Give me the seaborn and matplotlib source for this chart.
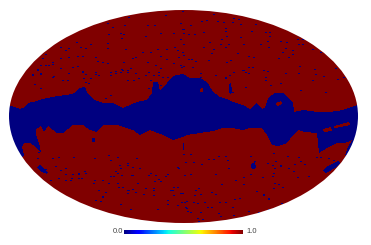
import numpy as np
import matplotlib
matplotlib.use("Agg")
import matplotlib.pyplot as plt
from matplotlib.patches import Ellipse
from matplotlib.path import Path
import seaborn as sns

W, H = 371, 245
sky_center = (183.7, 116.3)
sky_width, sky_height = 349.0, 213.0

# Masked plane outline, read in image pixels
upper_left_x = [0, 8, 20, 25, 28, 33, 43, 57, 67, 75, 80, 85, 87, 95, 103, 113, 123, 130, 137, 147, 152, 153, 158, 160, 167, 173, 183]
upper_left_y = [105, 105, 109, 107, 103, 102, 99, 96, 95, 93, 88, 87, 93, 100, 103, 103, 108, 105, 102, 100, 93, 82, 82, 91, 83, 76, 74]
upper_right_x = [190, 200, 207, 213, 220, 227, 233, 243, 250, 257, 262, 265, 268, 275, 283, 293, 294, 303, 317, 330, 343, 357, 371]
upper_right_y = [78, 78, 82, 92, 97, 99, 102, 105, 109, 103, 109, 108, 98, 93, 93, 102, 112, 110, 112, 112, 110, 105, 105]
lower_right_x = [371, 371, 350, 345, 348, 352, 345, 337, 327, 319, 317, 305, 298, 293, 287, 278, 272, 267, 262, 250, 243, 233, 223, 213, 200, 187, 180]
lower_right_y = [132, 160, 157, 155, 147, 140, 143, 143, 148, 153, 133, 132, 130, 135, 143, 146, 145, 135, 128, 128, 130, 128, 128, 131, 133, 135, 138]
lower_left_x = [173, 163, 150, 140, 133, 127, 117, 103, 97, 90, 83, 73, 63, 57, 48, 44, 41, 36, 36, 40, 41, 35, 30, 24, 22, 24, 20, 3, 0]
lower_left_y = [140, 135, 130, 135, 130, 128, 125, 125, 132, 130, 125, 125, 133, 133, 126, 132, 126, 129, 135, 147, 153, 146, 143, 143, 147, 155, 160, 153, 150]

# Islands of the other value
red_island_x = [[200, 203, 203, 200], [276, 281, 282, 278, 276], [323, 331, 332, 324], [334, 349, 350, 336, 334]]
red_island_y = [[89, 88, 92, 92], [103, 101, 104, 106, 105], [129, 127, 131, 132], [126, 122, 125, 128, 128]]
blue_blob_x = [[229, 231, 232, 231, 229], [183, 184, 184, 183], [251, 255, 256, 253, 251], [323, 328, 338, 340, 335, 326], [343, 350, 352, 345], [92, 95, 95, 92], [37, 40, 48, 47, 40]]
blue_blob_y = [[84, 83, 92, 94, 93], [143, 143, 150, 150], [164, 162, 168, 169, 167], [171, 166, 161, 163, 168, 173], [160, 150, 151, 162], [138, 138, 142, 142], [167, 165, 172, 174, 171]]

# Small masked sources, image pixels
north_left_x = [165, 128, 107, 112, 147, 154, 124, 108, 120, 123, 145, 121, 76, 90, 107, 107, 80, 85, 68, 65, 60, 125, 142, 150, 157, 166, 174, 182, 177, 183, 173, 160, 188, 45, 42, 52, 48, 40, 37, 32, 60, 68, 77, 82, 95, 97, 102, 107, 123, 132, 135, 147, 160, 166, 173, 178, 72, 77, 82, 60, 53, 40, 85, 95, 98, 110, 115, 121, 127, 135, 148, 160, 162, 167, 153, 83]
north_left_y = [15, 17, 23, 27, 25, 25, 25, 34, 33, 34, 36, 38, 42, 44, 43, 48, 47, 48, 48, 50, 47, 49, 52, 52, 49, 49, 47, 52, 50, 29, 33, 33, 34, 54, 58, 62, 65, 65, 70, 74, 58, 57, 56, 56, 57, 61, 62, 63, 62, 58, 57, 62, 56, 59, 63, 57, 67, 66, 71, 68, 76, 74, 74, 74, 75, 72, 71, 69, 70, 73, 72, 68, 77, 77, 75, 78]
north_right_x = [182, 213, 233, 238, 201, 206, 217, 232, 223, 240, 255, 190, 180, 225, 225, 182, 183, 188, 194, 203, 251, 265, 269, 269, 226, 221, 240, 209, 180, 220, 228, 225, 243, 260, 268, 267, 280, 286, 297, 302, 298, 302, 312, 320, 285, 292, 292, 282, 278, 183, 203, 213, 211, 183, 237, 248, 253, 230, 226, 208, 191, 188, 195, 252, 242, 243, 248, 263, 267, 285, 298, 299, 314, 315, 323, 337, 343, 330, 233, 229, 225, 248, 200, 192, 181, 288]
north_right_y = [11, 14, 18, 19, 21, 20, 21, 22, 22, 24, 24, 25, 23, 28, 31, 29, 33, 34, 34, 32, 31, 32, 32, 36, 36, 39, 37, 42, 39, 44, 44, 47, 44, 44, 47, 41, 41, 42, 39, 39, 44, 44, 49, 52, 48, 50, 54, 52, 58, 44, 47, 49, 53, 55, 53, 56, 57, 60, 62, 60, 59, 59, 61, 67, 70, 70, 67, 70, 71, 73, 73, 66, 69, 74, 76, 79, 77, 57, 72, 75, 77, 73, 77, 67, 67, 57]
north_mid_x = [37, 32, 45, 52, 40, 52, 62, 67, 34, 40, 82, 68, 95, 115, 110, 127, 122, 90, 88, 127, 133, 138, 158, 173, 178, 180, 85, 105, 110, 145, 150, 148, 160, 155, 158, 175, 185, 183, 178, 120, 130, 200, 215, 225, 232, 245, 265, 270, 280, 265, 245, 300, 325, 335, 312, 298]
north_mid_y = [69, 75, 65, 64, 73, 77, 80, 80, 84, 88, 72, 73, 72, 73, 75, 72, 70, 78, 83, 80, 80, 78, 75, 80, 78, 65, 82, 98, 95, 75, 80, 88, 85, 65, 72, 90, 80, 66, 85, 72, 68, 73, 75, 78, 92, 87, 80, 85, 83, 77, 72, 90, 92, 68, 80, 73]
south_left_x = [38, 37, 52, 58, 73, 55, 65, 78, 84, 94, 108, 117, 117, 127, 136, 110, 127, 132, 139, 40, 45, 65, 70, 72, 78, 71, 78, 85, 50, 58, 65, 60, 81, 93, 94, 102, 108, 117, 118, 122, 127, 132, 117, 121, 131, 150, 155, 160, 167, 177, 115, 119, 132, 148, 154, 158, 165, 178, 185, 137, 127, 113, 120, 110, 145, 153, 153, 170, 172, 177, 182, 167, 180, 120, 128, 135, 173, 177, 102, 185, 187, 102, 98, 105, 95, 100, 130, 143, 153, 167, 173, 157]
south_left_y = [152, 158, 158, 157, 157, 166, 168, 173, 171, 158, 155, 157, 157, 163, 158, 160, 165, 175, 168, 167, 169, 174, 180, 174, 174, 178, 178, 173, 180, 178, 180, 170, 178, 183, 180, 180, 183, 183, 187, 187, 190, 189, 173, 175, 175, 173, 175, 181, 174, 167, 171, 165, 167, 175, 181, 179, 176, 168, 162, 183, 193, 176, 168, 176, 188, 188, 190, 190, 190, 187, 193, 204, 193, 204, 190, 192, 187, 205, 196, 207, 211, 197, 190, 192, 200, 201, 209, 194, 195, 200, 195, 209]
south_right_x = [254, 267, 272, 275, 280, 280, 294, 300, 304, 288, 293, 293, 304, 274, 273, 272, 308, 297, 250, 262, 235, 243, 228, 215, 227, 201, 193, 208, 213, 190, 218, 225, 183, 250, 273, 287, 298, 316, 316, 320, 328, 333, 184, 190, 195, 198, 221, 243, 274, 278, 273, 282, 256, 263, 263, 215, 211, 200, 194, 184, 204, 219, 225, 234, 181, 186, 193, 197, 207, 186, 190, 200, 211, 218, 232, 233, 220, 240, 197, 202, 198, 281, 274, 282, 268, 268, 239, 248, 258, 268]
south_right_y = [161, 163, 165, 161, 165, 166, 164, 161, 164, 168, 171, 171, 164, 168, 173, 176, 176, 177, 174, 177, 180, 177, 168, 174, 160, 164, 162, 159, 159, 154, 156, 156, 154, 156, 153, 156, 157, 157, 157, 157, 158, 160, 175, 174, 190, 188, 184, 184, 183, 184, 188, 187, 191, 194, 195, 194, 192, 194, 195, 202, 202, 202, 202, 199, 202, 201, 202, 203, 207, 208, 212, 212, 207, 213, 207, 215, 216, 217, 218, 219, 221, 203, 209, 205, 198, 199, 198, 211, 212, 209]

speck_x = north_left_x + north_right_x + north_mid_x + south_left_x + south_right_x
speck_y = north_left_y + north_right_y + north_mid_y + south_left_y + south_right_y

yy, xx = np.mgrid[0:H, 0:W]
pts = np.column_stack([xx.ravel() + 0.5, yy.ravel() + 0.5])


def region(xs, ys):
    return Path(np.column_stack([xs, ys])).contains_points(pts).reshape(H, W)


grid = np.ones((H, W))
grid[region(upper_left_x + upper_right_x + lower_right_x + lower_left_x,
            upper_left_y + upper_right_y + lower_right_y + lower_left_y)] = 0.0
for xs, ys in zip(red_island_x, red_island_y):
    grid[region(xs, ys)] = 1.0
for xs, ys in zip(blue_blob_x, blue_blob_y):
    grid[region(xs, ys)] = 0.0
for x, y in zip(speck_x, speck_y):
    grid[y, x:x + 2] = 0.0

fig = plt.figure(figsize=(W / 100, H / 100), dpi=100, facecolor="white")
ax = fig.add_axes([0, 0, 1, 1])
cax = fig.add_axes([124 / W, 1 - 233.5 / H, 119 / W, 4 / H])
sns.heatmap(grid, ax=ax, cmap="jet", vmin=0, vmax=1, cbar_ax=cax,
            cbar_kws={"orientation": "horizontal", "ticks": []},
            xticklabels=False, yticklabels=False)
ax.set_xlim(0, W)
ax.set_ylim(H, 0)
ax.axis("off")
mesh = ax.collections[0]
mesh.set_clip_path(Ellipse(sky_center, sky_width, sky_height, transform=ax.transData))
mesh.colorbar.outline.set_visible(False)

label_font = ["Liberation Sans", "DejaVu Sans"]
fig.text(117.5 / W, 1 - 231.5 / H, "0.0", ha="center", va="center", fontsize=5.5,
         color="#444444", family=label_font)
fig.text(251.5 / W, 1 - 231.5 / H, "1.0", ha="center", va="center", fontsize=5.5,
         color="#444444", family=label_font)
fig.savefig("out.png", dpi=100)
